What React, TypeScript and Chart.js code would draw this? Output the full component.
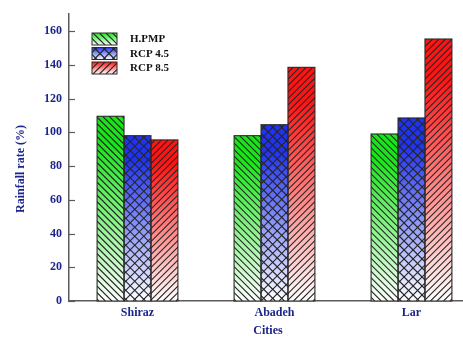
import React, { useEffect, useRef } from 'react';
import { Chart, registerables } from 'chart.js';

Chart.register(...registerables);

const categories = ['Shiraz', 'Abadeh', 'Lar'];
const seriesNames = ['H.PMP', 'RCP 4.5', 'RCP 8.5'];
const hpmpValues = [109.5, 98, 99];
const rcp45Values = [98, 104.5, 108.5];
const rcp85Values = [95.5, 138.5, 155.3];
const yTickValues = [0, 20, 40, 60, 80, 100, 120, 140, 160];

const seriesColors = ['#19e619', '#1f33f0', '#ff1414'];
const hatchTypes = ['back', 'cross', 'fwd'];
const FONT = "'Liberation Serif', 'Times New Roman', serif";
const NAVY = '#1c258c';
const AXIS = '#5a5a5a';

function drawHatch(ctx: CanvasRenderingContext2D, l: number, t: number, w: number, h: number, type: string, anchorY: number) {
  ctx.save();
  ctx.beginPath();
  ctx.rect(l, t, w, h);
  ctx.clip();
  ctx.strokeStyle = '#262626';
  ctx.lineWidth = 1.1;
  const s = type === 'cross' ? 9 : 6.5;
  const span = w + h + 2 * s;
  const drawDir = (dir: number) => {
    ctx.beginPath();
    const phase = ((anchorY - t) % s + s) % s;
    for (let d = -span; d <= span; d += s) {
      const x0 = l + d + phase;
      if (dir > 0) {
        ctx.moveTo(x0, t);
        ctx.lineTo(x0 + h, t + h);
      } else {
        ctx.moveTo(x0, t + h);
        ctx.lineTo(x0 + h, t);
      }
    }
    ctx.stroke();
  };
  if (type === 'back') drawDir(1);
  else if (type === 'fwd') drawDir(-1);
  else {
    drawDir(1);
    drawDir(-1);
  }
  ctx.restore();
}

const hatchPlugin = {
  id: 'hatchPlugin',
  afterDatasetsDraw(chart: any) {
    const ctx: CanvasRenderingContext2D = chart.ctx;
    chart.data.datasets.forEach((ds: any, di: number) => {
      const meta = chart.getDatasetMeta(di);
      meta.data.forEach((el: any) => {
        const p = el.getProps(['x', 'y', 'base', 'width'], true);
        const l = p.x - p.width / 2;
        const t = Math.min(p.y, p.base);
        const h = Math.abs(p.base - p.y);
        drawHatch(ctx, l, t, p.width, h, hatchTypes[di], p.base);
        ctx.save();
        ctx.strokeStyle = '#2a2a2a';
        ctx.lineWidth = 1.1;
        ctx.strokeRect(l, t, p.width, h);
        ctx.restore();
      });
    });
  },
  afterDraw(chart: any) {
    const ctx: CanvasRenderingContext2D = chart.ctx;
    const ys = chart.scales.y;
    const left = chart.chartArea.left;
    ctx.save();
    ctx.strokeStyle = AXIS;
    ctx.lineWidth = 1.2;
    yTickValues.forEach((v) => {
      const py = Math.round(ys.getPixelForValue(v)) + 0.5;
      ctx.beginPath();
      ctx.moveTo(left, py);
      ctx.lineTo(left + 6, py);
      ctx.stroke();
    });
    ctx.restore();

    const bx = 92, bw = 25, bh = 12;
    const bys = [33, 47.5, 62];
    seriesNames.forEach((name, i) => {
      const by = bys[i];
      ctx.save();
      const g = ctx.createLinearGradient(0, by, 0, by + bh);
      g.addColorStop(0, seriesColors[i]);
      g.addColorStop(1, '#ffffff');
      ctx.fillStyle = g;
      ctx.fillRect(bx, by, bw, bh);
      ctx.restore();
      drawHatch(ctx, bx, by, bw, bh, hatchTypes[i], by + bh);
      ctx.save();
      ctx.strokeStyle = '#2a2a2a';
      ctx.lineWidth = 1;
      ctx.strokeRect(bx, by, bw, bh);
      ctx.fillStyle = '#111111';
      ctx.font = `bold 11px ${FONT}`;
      ctx.textBaseline = 'middle';
      ctx.textAlign = 'left';
      ctx.fillText(name, 130, by + bh / 2 + 0.5);
      ctx.restore();
    });

    ctx.save();
    ctx.fillStyle = NAVY;
    ctx.font = `bold 12px ${FONT}`;
    ctx.textAlign = 'center';
    ctx.textBaseline = 'middle';
    ctx.translate(21, 169);
    ctx.rotate(-Math.PI / 2);
    ctx.fillText('Rainfall rate (%)', 0, 0);
    ctx.restore();

    ctx.save();
    ctx.fillStyle = NAVY;
    ctx.font = `bold 12px ${FONT}`;
    ctx.textAlign = 'center';
    ctx.textBaseline = 'middle';
    ctx.fillText('Cities', 268, 331);
    ctx.restore();
  },
};

function makeGradientColor(color: string) {
  return (c: any) => {
    const chart = c.chart;
    const ys = chart.scales && chart.scales.y;
    if (!ys || c.type !== 'data' || c.raw == null) return color;
    const top = ys.getPixelForValue(c.raw);
    const base = ys.getPixelForValue(0);
    if (!isFinite(top) || !isFinite(base) || top === base) return color;
    const g = chart.ctx.createLinearGradient(0, top, 0, base);
    g.addColorStop(0, color);
    g.addColorStop(0.15, color);
    g.addColorStop(1, '#ffffff');
    return g;
  };
}

export default function App() {
  const canvasRef = useRef<HTMLCanvasElement | null>(null);

  useEffect(() => {
    if (!canvasRef.current) return;
    const values = [hpmpValues, rcp45Values, rcp85Values];
    const chart = new Chart(canvasRef.current, {
      type: 'bar',
      data: {
        labels: categories,
        datasets: seriesNames.map((name, i) => ({
          label: name,
          data: values[i],
          backgroundColor: makeGradientColor(seriesColors[i]),
          borderWidth: 0,
          categoryPercentage: 0.59,
          barPercentage: 1.0,
        })),
      },
      options: {
        responsive: false,
        animation: false,
        layout: { padding: { top: 12, left: 0, right: 0, bottom: 0 } },
        plugins: {
          legend: { display: false },
          tooltip: { enabled: false },
        },
        scales: {
          x: {
            grid: { display: false, drawTicks: false },
            border: { display: true, color: AXIS, width: 1.5 },
            ticks: {
              color: NAVY,
              font: { family: FONT, size: 12, weight: 'bold' },
              padding: 5,
            },
            afterFit: (s: any) => {
              s.height = 36;
            },
          },
          y: {
            min: 0,
            max: 170,
            grid: { display: false, drawTicks: false },
            border: { display: true, color: AXIS, width: 1.5 },
            ticks: {
              color: NAVY,
              font: { family: FONT, size: 12, weight: 'bold' },
              padding: 7,
            },
            afterBuildTicks: (s: any) => {
              s.ticks = yTickValues.map((v) => ({ value: v }));
            },
            afterFit: (s: any) => {
              s.width = 69;
            },
          },
        },
      },
      plugins: [hatchPlugin],
    } as any);
    return () => chart.destroy();
  }, []);

  return (
    <div style={{ position: 'absolute', left: 0, top: 0, width: 463, height: 337, overflow: 'hidden', background: '#ffffff' }}>
      <canvas ref={canvasRef} width={480} height={337} style={{ display: 'block' }} />
    </div>
  );
}
